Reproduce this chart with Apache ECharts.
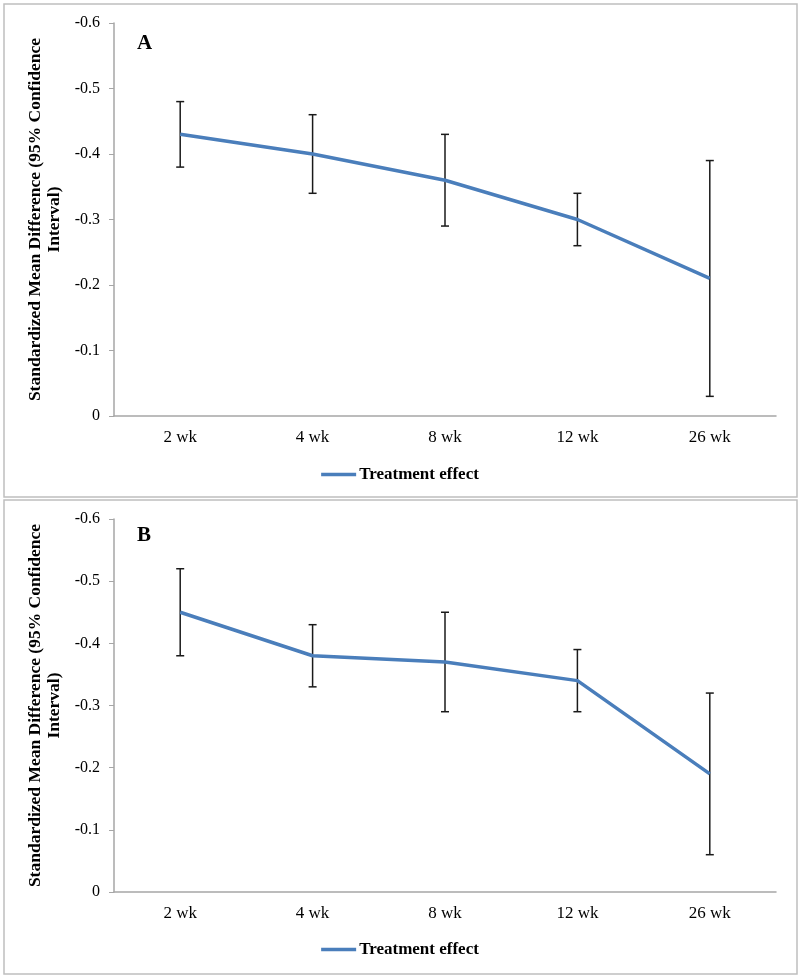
<!DOCTYPE html>
<html>
<head>
<meta charset="utf-8">
<script src="https://cdn.jsdelivr.net/npm/echarts@6/dist/echarts.min.js"></script>
<style>
html,body{margin:0;padding:0;background:#fff;}
#chart{width:800px;height:977px;}
</style>
</head>
<body>
<div id="chart"></div>
<script>
const categories = ['2 wk', '4 wk', '8 wk', '12 wk', '26 wk'];
const meanA  = [-0.43, -0.40, -0.36, -0.30, -0.21];
const lowerA = [-0.48, -0.46, -0.43, -0.34, -0.39];
const upperA = [-0.38, -0.34, -0.29, -0.26, -0.03];
const meanB  = [-0.45, -0.38, -0.37, -0.34, -0.19];
const lowerB = [-0.52, -0.43, -0.45, -0.39, -0.32];
const upperB = [-0.38, -0.33, -0.29, -0.29, -0.06];
const seriesName = 'Treatment effect';
const yTitle = 'Standardized Mean Difference (95% Confidence\nInterval)';
const panelLabels = ['A', 'B'];

const serif = '"Liberation Serif", "Times New Roman", serif';
const chart = echarts.init(document.getElementById('chart'), null, {renderer: 'canvas'});

function errData(lo, hi) {
  return categories.map((c, i) => [i, lo[i], hi[i]]);
}
function renderErr(params, api) {
  const x = api.value(0);
  const p1 = api.coord([x, api.value(1)]);
  const p2 = api.coord([x, api.value(2)]);
  const cap = 4;
  const style = {stroke: '#1a1a1a', lineWidth: 1.5};
  return {
    type: 'group',
    children: [
      {type: 'line', shape: {x1: p1[0], y1: p1[1], x2: p2[0], y2: p2[1]}, style: style},
      {type: 'line', shape: {x1: p1[0] - cap, y1: p1[1], x2: p1[0] + cap, y2: p1[1]}, style: style},
      {type: 'line', shape: {x1: p2[0] - cap, y1: p2[1], x2: p2[0] + cap, y2: p2[1]}, style: style}
    ]
  };
}
function xAxis(gi) {
  return {
    type: 'category', gridIndex: gi, data: categories, boundaryGap: true,
    position: 'bottom',
    axisLine: {onZero: false, lineStyle: {color: '#a6a6a6', width: 1.5}},
    axisTick: {inside: true, length: 5, alignWithLabel: false, lineStyle: {color: '#a6a6a6'}},
    axisLabel: {color: '#000', fontFamily: serif, fontSize: 17, margin: 13},
    splitLine: {show: false}
  };
}
function yAxis(gi) {
  return {
    type: 'value', gridIndex: gi, min: -0.6, max: 0, interval: 0.1, inverse: true,
    name: yTitle, nameLocation: 'middle', nameGap: 50, nameRotate: 90,
    nameTextStyle: {fontFamily: serif, fontWeight: 'bold', fontSize: 17.5, color: '#000', lineHeight: 19},
    axisLine: {show: true, lineStyle: {color: '#a6a6a6', width: 1.5}},
    axisTick: {show: true, inside: false, length: 5, lineStyle: {color: '#a6a6a6'}},
    axisLabel: {color: '#000', fontFamily: serif, fontSize: 16, margin: 14,
      formatter: v => Math.abs(v) < 1e-9 ? '0' : v.toFixed(1)},
    splitLine: {show: false}
  };
}
function lineSeries(gi, data) {
  return {
    name: seriesName, type: 'line', xAxisIndex: gi, yAxisIndex: gi, data: data,
    showSymbol: false, symbol: 'none', z: 3,
    lineStyle: {color: '#4a7ebb', width: 3.5}, itemStyle: {color: '#4a7ebb'}
  };
}
function errSeries(gi, lo, hi) {
  return {
    type: 'custom', xAxisIndex: gi, yAxisIndex: gi, data: errData(lo, hi),
    renderItem: renderErr, z: 2, silent: true
  };
}
function legend(top) {
  return {
    data: [seriesName], top: top, left: 'center', icon: 'rect',
    itemWidth: 35, itemHeight: 3.5, itemGap: 0,
    textStyle: {fontFamily: serif, fontWeight: 'bold', fontSize: 17, color: '#000', padding: [0, 0, 0, -2]},
    selectedMode: false
  };
}

chart.setOption({
  animation: false,
  backgroundColor: '#fff',
  grid: [
    {left: 114, right: 24, top: 23, height: 393},
    {left: 114, right: 24, top: 519, height: 373}
  ],
  xAxis: [xAxis(0), xAxis(1)],
  yAxis: [yAxis(0), yAxis(1)],
  legend: [legend(461), legend(936)],
  graphic: [
    {type: 'rect', shape: {x: 4, y: 4, width: 793, height: 493}, style: {fill: 'none', stroke: '#bfbfbf', lineWidth: 1.5}, z: -1},
    {type: 'rect', shape: {x: 4, y: 500, width: 793, height: 474}, style: {fill: 'none', stroke: '#bfbfbf', lineWidth: 1.5}, z: -1},
    {type: 'text', left: 137, top: 33, style: {text: panelLabels[0], font: 'bold 21px ' + serif, fill: '#000'}},
    {type: 'text', left: 137, top: 525, style: {text: panelLabels[1], font: 'bold 21px ' + serif, fill: '#000'}}
  ],
  series: [
    errSeries(0, lowerA, upperA),
    lineSeries(0, meanA),
    errSeries(1, lowerB, upperB),
    lineSeries(1, meanB)
  ]
});
</script>
</body>
</html>
